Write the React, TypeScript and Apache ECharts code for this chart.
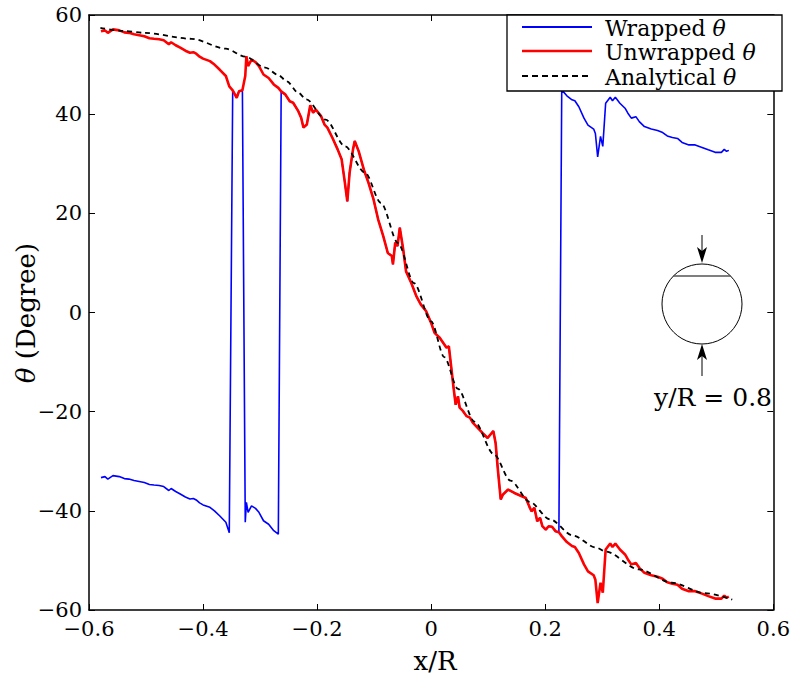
import React, { useEffect, useRef } from "react";
import * as echarts from "echarts";

const xTicks = [-0.6, -0.4, -0.2, 0, 0.2, 0.4, 0.6];
const yTicks = [-60, -40, -20, 0, 20, 40, 60];

// Unwrapped phase (degrees)
const unwrappedX = [
  -0.579, -0.572, -0.567, -0.558, -0.547, -0.538, -0.530, -0.521, -0.512, -0.503,
  -0.494, -0.486, -0.477, -0.469, -0.460, -0.456, -0.448, -0.440, -0.431, -0.423,
  -0.417, -0.412, -0.406, -0.400, -0.388, -0.380, -0.371, -0.360, -0.354, -0.348,
  -0.341, -0.337, -0.331, -0.326, -0.324, -0.321, -0.315, -0.308, -0.302, -0.294,
  -0.285, -0.276, -0.268, -0.263, -0.256, -0.248, -0.242, -0.233, -0.228, -0.224,
  -0.218, -0.212, -0.207, -0.202, -0.193, -0.187, -0.182, -0.173, -0.164, -0.157,
  -0.152, -0.147, -0.143, -0.137, -0.134, -0.127, -0.118, -0.110, -0.101, -0.093,
  -0.084, -0.076, -0.069, -0.067, -0.063, -0.059, -0.055, -0.049, -0.044, -0.035,
  -0.026, -0.018, -0.009, 0.000, 0.006, 0.015, 0.021, 0.027, 0.031, 0.035,
  0.039, 0.043, 0.047, 0.050, 0.056, 0.062, 0.068, 0.073, 0.082, 0.090,
  0.099, 0.104, 0.109, 0.113, 0.117, 0.122, 0.126, 0.135, 0.146, 0.158,
  0.166, 0.172, 0.176, 0.181, 0.186, 0.191, 0.195, 0.201, 0.206, 0.212,
  0.218, 0.224, 0.229, 0.238, 0.247, 0.252, 0.259, 0.268, 0.275, 0.285,
  0.288, 0.292, 0.297, 0.301, 0.306, 0.314, 0.318, 0.323, 0.331, 0.340,
  0.345, 0.351, 0.359, 0.365, 0.374, 0.386, 0.397, 0.406, 0.414, 0.423,
  0.432, 0.440, 0.452, 0.463, 0.475, 0.486, 0.498, 0.509, 0.514, 0.518, 0.522,
];
const unwrappedY = [
  56.7, 56.9, 56.4, 57.1, 56.9, 56.5, 56.4, 56.1, 55.9, 55.7,
  55.3, 55.2, 55.1, 54.9, 54.1, 54.5, 53.9, 53.4, 52.8, 52.4,
  52.5, 52.2, 51.6, 51.2, 50.7, 50.0, 49.0, 47.7, 45.6, 44.8,
  43.3, 44.6, 44.8, 47.7, 51.7, 49.7, 51.0, 50.5, 49.7, 48.0,
  47.3, 46.0, 45.3, 44.6, 44.0, 42.6, 42.3, 40.6, 39.3, 37.3,
  37.9, 41.8, 40.3, 40.9, 39.6, 37.9, 37.3, 35.2, 32.9, 30.9,
  26.8, 22.4, 28.2, 32.9, 34.6, 32.5, 28.8, 26.2, 22.8, 18.8,
  15.4, 12.0, 11.4, 9.7, 14.1, 13.4, 17.1, 12.7, 8.3, 6.0,
  3.3, 1.6, 0.3, -2.1, -4.1, -5.1, -6.1, -7.1, -6.8, -10.8,
  -14.9, -18.6, -16.9, -19.2, -19.9, -20.9, -21.2, -22.2, -23.3, -24.3,
  -25.3, -24.6, -23.9, -26.3, -31.7, -37.7, -36.7, -35.7, -36.4, -37.0,
  -37.4, -39.1, -40.1, -39.4, -42.1, -41.4, -43.1, -43.8, -43.1, -43.2,
  -44.1, -44.3, -45.1, -46.3, -47.1, -47.3, -48.5, -50.8, -52.2, -53.0,
  -53.9, -58.6, -54.5, -56.5, -47.8, -46.6, -47.3, -46.6, -47.8, -48.8,
  -49.8, -50.8, -50.5, -51.5, -52.5, -53.0, -53.3, -53.7, -54.4, -54.7,
  -54.9, -55.7, -56.2, -56.2, -56.7, -57.2, -57.7, -57.7, -57.1, -57.5, -57.3,
];

// Analytical curve
const analyticalX = [
  -0.580, -0.541, -0.503, -0.420, -0.360, -0.326, -0.291, -0.268, -0.253, -0.233,
  -0.219, -0.185, -0.151, -0.116, -0.088, -0.058, -0.030, 0.000, 0.023, 0.047,
  0.076, 0.110, 0.139, 0.173, 0.208, 0.249, 0.289, 0.306, 0.364, 0.422, 0.479, 0.528,
];
const analyticalY = [
  57.4, 56.8, 56.4, 55.2, 53.2, 51.6, 49.4, 47.9, 46.6, 44.3,
  43.0, 38.9, 33.5, 28.2, 22.1, 14.0, 5.9, -1.8, -9.0, -15.4,
  -22.0, -28.6, -33.9, -38.2, -41.7, -45.0, -47.4, -48.2, -51.8, -54.5, -56.6, -57.9,
];

const WRAP_LIMIT = 45;
const wrapDeg = (v: number) => (v > WRAP_LIMIT ? v - 90 : v < -WRAP_LIMIT ? v + 90 : v);

const FONT = "DejaVu Serif";

const fmt = (v: number, digits: number) => {
  if (Math.abs(v) < 1e-9) return "0";
  const s = Math.abs(v).toFixed(digits);
  return (v < 0 ? "\u2212" : "") + s;
};

export default function App() {
  const ref = useRef<HTMLDivElement>(null);
  useEffect(() => {
    if (!ref.current) return;
    const chart = echarts.init(ref.current, null, { renderer: "svg" });
    const unwrapped = unwrappedX.map((x, i) => [x, unwrappedY[i]]);
    const wrapped = unwrappedX.map((x, i) => [x, wrapDeg(unwrappedY[i])]);
    const analytical = analyticalX.map((x, i) => [x, analyticalY[i]]);

    const axisLine = { show: true, onZero: false, lineStyle: { color: "#000", width: 1.5 } };
    const axisTick = { show: true, inside: true, length: 6, lineStyle: { color: "#000", width: 1 } };
    const labelStyle = { color: "#000", fontFamily: FONT, fontSize: 21 };

    const legendRows = [
      { y: 27, label: "Wrapped {i|θ}", color: "#0000ff", width: 1.8, dash: null as any },
      { y: 51, label: "Unwrapped {i|θ}", color: "#ff0000", width: 2.6, dash: null as any },
      { y: 76, label: "Analytical {i|θ}", color: "#000", width: 2, dash: [6, 4] },
    ];
    const rich = { i: { fontStyle: "italic", fontFamily: FONT, fontSize: 22, fill: "#000" } };
    const richBig = { i: { fontStyle: "italic", fontFamily: FONT, fontSize: 26, fill: "#000" } };

    const graphic: any[] = [
      {
        type: "rect",
        shape: { x: 507, y: 15, width: 275, height: 76 },
        style: { fill: "#fff", stroke: "#000", lineWidth: 1.3 },
        z: 100,
      },
    ];
    legendRows.forEach((r) => {
      graphic.push({
        type: "line",
        shape: { x1: 522, y1: r.y, x2: 592, y2: r.y },
        style: { stroke: r.color, lineWidth: r.width, lineDash: r.dash || undefined },
        z: 101,
      });
      graphic.push({
        type: "text",
        x: 605,
        y: r.y + 1,
        style: {
          text: r.label,
          rich,
          fill: "#000",
          fontFamily: FONT,
          fontSize: 22,
          textAlign: "left",
          textVerticalAlign: "middle",
        },
        z: 101,
      });
    });
    // inset sketch
    graphic.push(
      { type: "circle", shape: { cx: 702, cy: 304, r: 40 }, style: { fill: "none", stroke: "#000", lineWidth: 1 }, z: 50 },
      { type: "line", shape: { x1: 673, y1: 276, x2: 731, y2: 276 }, style: { stroke: "#555", lineWidth: 1.5 }, z: 50 },
      { type: "line", shape: { x1: 702, y1: 235, x2: 702, y2: 255 }, style: { stroke: "#000", lineWidth: 1 }, z: 50 },
      { type: "polygon", shape: { points: [[697, 247], [702, 263], [707, 247], [702, 251]] }, style: { fill: "#000" }, z: 50 },
      { type: "line", shape: { x1: 702, y1: 352, x2: 702, y2: 376 }, style: { stroke: "#000", lineWidth: 1 }, z: 50 },
      { type: "polygon", shape: { points: [[697, 360], [702, 344], [707, 360], [702, 356]] }, style: { fill: "#000" }, z: 50 },
      {
        type: "text",
        x: 713,
        y: 397,
        style: { text: "y/R = 0.8", fill: "#000", fontFamily: FONT, fontSize: 25, textAlign: "center", textVerticalAlign: "middle" },
        z: 50,
      },
      {
        type: "text",
        x: 435,
        y: 661,
        style: { text: "x/R", fill: "#000", fontFamily: FONT, fontSize: 26, textAlign: "center", textVerticalAlign: "middle" },
        z: 50,
      },
      {
        type: "text",
        x: 26,
        y: 313,
        rotation: Math.PI / 2,
        style: {
          text: "{i|θ} (Degree)",
          rich: richBig,
          fill: "#000",
          fontFamily: FONT,
          fontSize: 26,
          textAlign: "center",
          textVerticalAlign: "middle",
        },
        z: 50,
      }
    );

    chart.setOption({
      animation: false,
      backgroundColor: "#fff",
      grid: { left: 89, right: 12, top: 15, bottom: 74, containLabel: false },
      xAxis: [
        {
          type: "value",
          min: xTicks[0],
          max: xTicks[xTicks.length - 1],
          interval: 0.2,
          position: "bottom",
          axisLine,
          axisTick,
          splitLine: { show: false },
          axisLabel: { ...labelStyle, margin: 8, formatter: (v: number) => fmt(v, 1) },
        },
        {
          type: "value",
          min: xTicks[0],
          max: xTicks[xTicks.length - 1],
          interval: 0.2,
          position: "top",
          axisLine,
          axisTick,
          splitLine: { show: false },
          axisLabel: { show: false },
        },
      ],
      yAxis: [
        {
          type: "value",
          min: yTicks[0],
          max: yTicks[yTicks.length - 1],
          interval: 20,
          position: "left",
          axisLine,
          axisTick,
          splitLine: { show: false },
          axisLabel: { ...labelStyle, margin: 7, formatter: (v: number) => fmt(v, 0) },
        },
        {
          type: "value",
          min: yTicks[0],
          max: yTicks[yTicks.length - 1],
          interval: 20,
          position: "right",
          axisLine,
          axisTick,
          splitLine: { show: false },
          axisLabel: { show: false },
        },
      ],
      series: [
        {
          name: "Wrapped θ",
          type: "line",
          data: wrapped,
          showSymbol: false,
          lineStyle: { color: "#0000ff", width: 1.6 },
          itemStyle: { color: "#0000ff" },
          z: 2,
        },
        {
          name: "Unwrapped θ",
          type: "line",
          data: unwrapped,
          showSymbol: false,
          lineStyle: { color: "#ff0000", width: 2.6 },
          itemStyle: { color: "#ff0000" },
          z: 3,
        },
        {
          name: "Analytical θ",
          type: "line",
          data: analytical,
          showSymbol: false,
          smooth: 0.3,
          smoothMonotone: "x",
          lineStyle: { color: "#000", width: 1.8, type: [5, 4] },
          itemStyle: { color: "#000" },
          z: 4,
        },
      ],
      graphic,
    });
    return () => chart.dispose();
  }, []);
  return <div ref={ref} style={{ position: "fixed", left: 0, top: 0, width: 793, height: 684 }} />;
}
